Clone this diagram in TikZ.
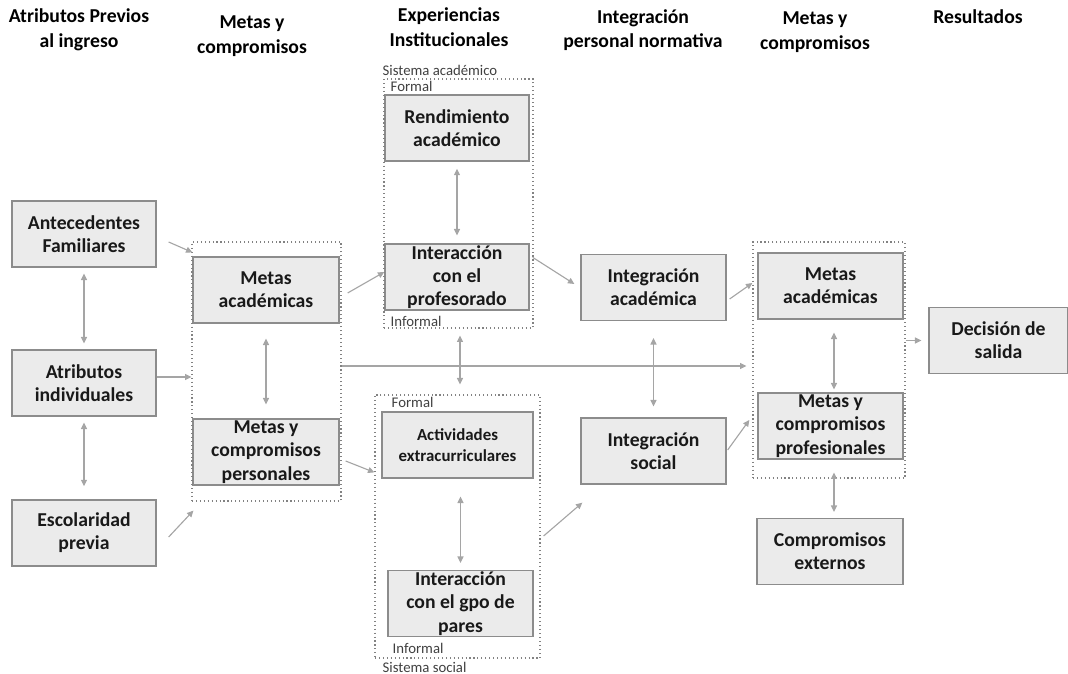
\documentclass[tikz,border=0pt]{standalone}
\usepackage{fontspec}
\setmainfont{Carlito}
\usepackage{xcolor}
\definecolor{BoxFill}{RGB}{235,235,235}
\definecolor{BoxLine}{RGB}{140,140,140}
\definecolor{ArrowColor}{RGB}{165,165,165}
\definecolor{ZoneColor}{RGB}{130,130,130}
\definecolor{NoteColor}{RGB}{64,64,64}
\usetikzlibrary{positioning, arrows.meta, calc}

\begin{document}
\begin{tikzpicture}[
    x=0.025cm, y=-0.025cm,
    box/.style={rectangle, draw=BoxLine, line width=0.9pt, fill=BoxFill, minimum width=3.6cm, minimum height=1.65cm, inner xsep=2pt, inner ysep=0pt, align=center, font=\fontsize{14}{16.5}\selectfont\bfseries, text=black!90},
    smallbox/.style={box, font=\fontsize{12}{15}\selectfont\bfseries},
    zone/.style={rectangle, draw=ZoneColor, dotted, line width=0.8pt, inner sep=0pt},
    heading/.style={align=center, font=\fontsize{14}{17.5}\selectfont\bfseries, inner sep=0pt},
    note/.style={font=\fontsize{10.5}{12}\selectfont, text=NoteColor, inner sep=0pt},
    arrow/.style={-{Triangle[length=1.6mm, width=1.5mm]}, draw=ArrowColor, line width=0.8pt},
    twoway/.style={arrow, {Triangle[length=1.6mm, width=1.5mm]}-{Triangle[length=1.6mm, width=1.5mm]}},
]

\useasboundingbox (0,0) rectangle (1068,674);

% ============================================
% COLUMN HEADINGS
% ============================================
\node[heading] (hAtr) at (79,30) {Atributos Previos\\al ingreso};
\node[heading] (hMet) at (252,36) {Metas y\\compromisos};
\node[heading] (hExp) at (449,27) {Experiencias\\Institucionales};
\node[heading] (hInt) at (643,30) {Integración\\personal normativa};
\node[heading] (hMet2) at (815,32) {Metas y\\compromisos};
\node[heading] (hRes) at (978,17) {Resultados};

% ============================================
% PRE-ENTRY ATTRIBUTES
% ============================================
\node[box] (fam) at (84,234) {Antecedentes\\Familiares};
\node[box] (ind) at (84,383) {Atributos\\individuales};
\node[box] (esc) at (84,533) {Escolaridad\\previa};

% ============================================
% GOALS AND COMMITMENTS (1)
% ============================================
\node[box, minimum width=3.65cm] (gacad) at (266,290) {Metas\\académicas};
\node[box, minimum width=3.65cm] (gpers) at (266,452) {Metas y\\compromisos\\personales};

% ============================================
% INSTITUTIONAL EXPERIENCES
% ============================================
\node[box] (rend) at (457,128) {Rendimiento\\académico};
\node[box] (prof) at (457,277) {Interacción\\con el\\profesorado};
\node[smallbox, minimum width=3.775cm] (extra) at (457.5,445) {Actividades\\extracurriculares};
\node[box, minimum width=3.625cm] (pares) at (460.5,603.5) {Interacción\\con el gpo de\\pares};

% ============================================
% NORMATIVE INTEGRATION
% ============================================
\node[box, minimum width=3.625cm] (iacad) at (653.5,287.5) {Integración\\académica};
\node[box, minimum width=3.625cm] (isoc) at (653.5,451) {Integración\\social};

% ============================================
% GOALS AND COMMITMENTS (2) / OUTCOMES
% ============================================
\node[box, minimum width=3.625cm] (gacad2) at (830.5,286) {Metas\\académicas};
\node[box, minimum width=3.625cm] (gprof) at (830.5,426) {Metas y\\compromisos\\profesionales};
\node[box, minimum width=3.65cm] (externos) at (830,551.5) {Compromisos\\externos};
\node[box, minimum width=3.475cm] (salida) at (998.5,340.5) {Decisión de\\salida};

% ============================================
% DOTTED ZONES
% ============================================
\node[zone, minimum width=3.725cm, minimum height=6.475cm] (goals) at (266.5,371.5) {};
\node[zone, minimum width=3.725cm, minimum height=6.225cm] (sacad) at (458.5,203.5) {};
\node[zone, minimum width=4.125cm, minimum height=6.575cm] (ssoc) at (457.5,526.5) {};
\node[zone, minimum width=3.8cm, minimum height=5.9cm] (goals2) at (829,360) {};

% zone labels
\node[note, anchor=base west] (lblAcad) at ($(sacad.north west)+(-1,-3)$) {Sistema académico};
\node[note, anchor=north west] (frmAcad) at ($(sacad.north west)+(7,3)$) {Formal};
\node[note, anchor=south west] (infAcad) at ($(sacad.south west)+(7,-2)$) {Informal};
\node[note, anchor=north west] (frmSoc) at ($(ssoc.north west)+(17,3)$) {Formal};
\node[note, anchor=south west] (infSoc) at ($(ssoc.south west)+(18,-5)$) {Informal};
\node[note, anchor=north west] (lblSoc) at ($(ssoc.south west)+(8,3)$) {Sistema social};

% ============================================
% ARROWS - Two-way links
% ============================================
\draw[twoway, shorten <=0.15cm, shorten >=0.15cm] (fam) -- (ind);
\draw[twoway, shorten <=0.15cm, shorten >=0.33cm] (ind) -- (esc);
\draw[twoway, shorten <=0.375cm, shorten >=0.35cm] (gacad) -- (gpers);
\draw[twoway, shorten <=0.18cm, shorten >=0.2cm] (rend) -- (prof);
\draw[twoway, shorten <=0.175cm, shorten >=0.25cm] ($(sacad.south)+(1.5,0)$) -- ($(ssoc.north)+(2.5,0)$);
\draw[twoway, shorten <=0.45cm, shorten >=0.175cm] (pares.north |- extra.south) -- (pares.north);
\draw[twoway, shorten <=0.425cm, shorten >=0.275cm] (iacad) -- (isoc);
\draw[twoway, shorten <=0.325cm, shorten >=0.075cm] ($(gacad2.south)+(3.5,0)$) -- ($(gprof.north)+(3.5,0)$);
\draw[twoway, shorten <=-0.15cm, shorten >=0.15cm] ($(goals2.south)+(5,0)$) -- ($(externos.north)+(4,0)$);

% ============================================
% ARROWS - Straight links
% ============================================
\draw[arrow] ($(ind.east)+(0,-6)$) -- ($(goals.west |- ind.east)+(0,-6)$);
\draw[arrow, shorten >=0.15cm] ($(goals.east)+(0,-5.5)$) -- ($(goals2.west |- goals.east)+(0,-5.5)$);
\draw[arrow, shorten >=0.175cm] (goals2.east |- salida.west) -- (salida.west);

% ============================================
% ARROWS - Diagonal links
% ============================================
\draw[arrow] ($(fam.east)+(12,8)$) -- ($(goals.north west)+(1,11)$);
\draw[arrow] ($(esc.east)+(12,4)$) -- ($(goals.south west)+(2,9)$);
\draw[arrow] ($(gacad.east)+(8,3)$) -- ($(prof.west)+(0,-5)$);
\draw[arrow] ($(gpers.east)+(6,9)$) -- ($(ssoc.north west)+(0,78)$);
\draw[arrow] ($(prof.north east)+(3,14)$) -- ($(iacad.west)+(-6,-3.5)$);
\draw[arrow] ($(ssoc.east)+(3,9.5)$) -- ($(isoc.south west)+(2,18)$);
\draw[arrow] ($(iacad.east)+(3,11.5)$) -- ($(gacad2.west)+(-5,-3)$);
\draw[arrow] ($(isoc.east)+(1,-1)$) -- ($(gprof.west)+(-8,-6)$);

\end{tikzpicture}
\end{document}
